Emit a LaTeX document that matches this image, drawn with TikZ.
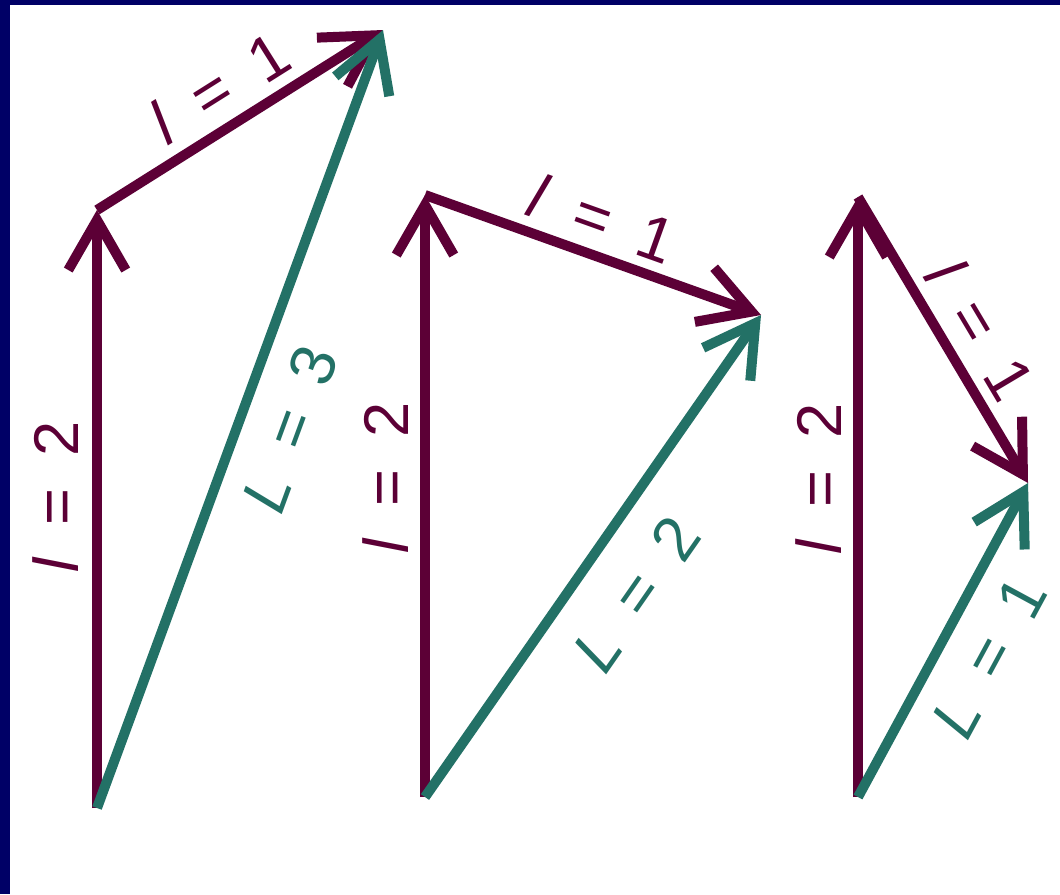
\documentclass[tikz,border=0pt]{standalone}
\usepackage{fontspec}
\setmainfont{Liberation Sans}[WordSpace=1.8]
\usetikzlibrary{arrows.meta}

\definecolor{wine}{HTML}{5C0036}
\definecolor{vecgreen}{HTML}{237166}
\definecolor{framenavy}{HTML}{000066}

\tikzset{
  lab/.style={font=\fontsize{36}{40}\selectfont,inner xsep=0pt,sloped},
  small/.style={wine,text=wine},
  big/.style={vecgreen,text=vecgreen}
}

\begin{document}
\begin{tikzpicture}[x=0.02cm,y=-0.02cm,>={Straight Barb[length=1.0cm,width=1.15cm]},line width=0.2cm]
  % frame
  \fill[white] (0,0) rectangle (1060,894);
  \fill[framenavy] (0,0) rectangle (10,894);
  \fill[framenavy] (0,0) rectangle (1060,5);
  \useasboundingbox (0,0) rectangle (1060,894);

  \coordinate (a1) at (97,808);
  \coordinate (b1) at (97,210);
  \coordinate (c1) at (383,30);
  \coordinate (a2) at (425,797);
  \coordinate (b2) at (425,195);
  \coordinate (c2) at (761,315);
  \coordinate (a3) at (858,797);
  \coordinate (b3) at (858,197);
  \coordinate (c3) at (1028,483);

  \path[->]
    (a1) edge[small] node[lab,small,pos=0.52,above,inner ysep=0.28cm] {\textit{l} = 2} (b1)
    (b1) edge[small] node[lab,small,pos=0.5,above,inner ysep=0.22cm] {\textit{l} = 1} (c1)
    (a1) edge[big] node[lab,big,pos=0.51,below,inner ysep=0.46cm] {\textit{L} = 3} (c1);
  \path[->]
    (a2) edge[small] node[lab,small,pos=0.53,above,inner ysep=0.24cm] {\textit{l} = 2} (b2)
    (b2) edge[small] node[lab,small,pos=0.49,above,inner ysep=0.2cm] {\textit{l} = 1} (c2)
    (a2) edge[big] node[lab,big,pos=0.49,below,inner ysep=0.6cm] {\textit{L} = 2} (c2);
  \path[->]
    (a3) edge[small] node[lab,small,pos=0.53,above,inner ysep=0.24cm] {\textit{l} = 2} (b3)
    (b3) edge[small] node[lab,small,pos=0.53,above,inner ysep=0.2cm] {\textit{l} = 1} (c3)
    (a3) edge[big] node[lab,big,pos=0.52,below,inner ysep=0.44cm] {\textit{L} = 1} (c3);
\end{tikzpicture}
\end{document}
